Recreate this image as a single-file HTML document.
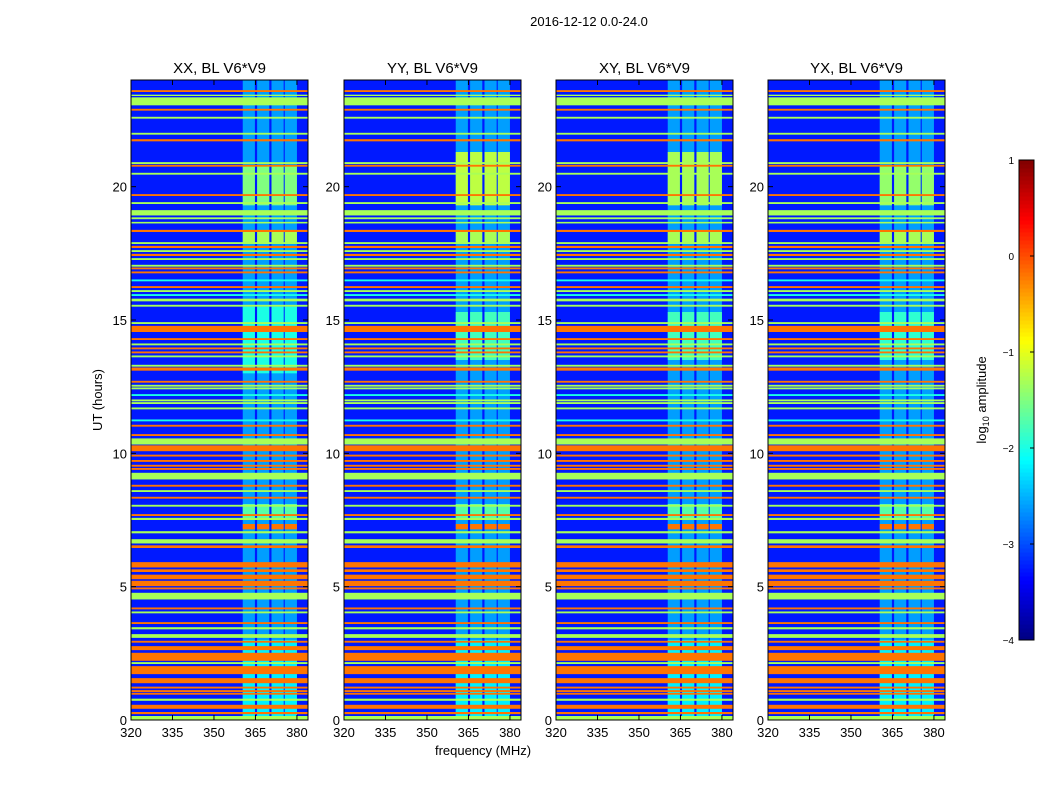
<!DOCTYPE html>
<html><head><meta charset="utf-8">
<style>
body{margin:0;background:#fff;}
svg{display:block;font-family:"Liberation Sans",sans-serif;}
</style></head>
<body>
<svg id="fig" width="1050" height="800" viewBox="0 0 1050 800" xmlns="http://www.w3.org/2000/svg">
<rect width="1050" height="800" fill="#fff"/>
<text x="589" y="26" font-size="13" text-anchor="middle">2016-12-12 0.0-24.0</text>
<text x="483" y="755" font-size="13" text-anchor="middle">frequency (MHz)</text>
<text transform="translate(102,400) rotate(-90)" font-size="13" text-anchor="middle">UT (hours)</text>
<g id="panels"></g>
<g id="cbar"></g>
<text transform="translate(986,400) rotate(-90)" font-size="13" text-anchor="middle">log<tspan font-size="9" dy="3">10</tspan><tspan dy="-3"> amplitude</tspan></text>
</svg>
<script>
const panelTitles = ["XX, BL V6*V9","YY, BL V6*V9","XY, BL V6*V9","YX, BL V6*V9"];
const panelLeft = [131,344,556,768];
const xTicks = [320,335,350,365,380];
const yTicks = [0,5,10,15,20];
const cbarTicks = [1,0,-1,-2,-3,-4];
const cbarTickLabels = ["1","0","\u22121","\u22122","\u22123","\u22124"];
const backgroundLevel = -3.25;
const O = -0.2, G = -1.3, C = -2.0;
// horizontal RFI bands: [startHour, endHour, log10 amplitude]
const bandStart = [23.55,23.4,23.05,22.85,22.55,21.95,21.7,20.85,20.75,20.45,19.65,19.35,18.92,18.78,18.62,18.3,17.85,17.7,17.55,17.4,17.25,17.0,16.9,16.75,16.45,16.2,16.05,15.9,15.7,15.5,14.85,14.55,14.25,14.05,13.9,13.75,13.6,13.25,13.1,12.65,12.5,12.4,12.15,11.95,11.85,11.65,11.2,11.0,10.65,10.33,10.08,9.88,9.68,9.5,9.38,9.02,8.75,8.55,8.3,8.0,7.65,7.5,7.0,6.62,6.45,5.72,5.55,5.28,5.02,4.9,4.52,4.15,4.0,3.6,3.4,3.08,2.9,2.62,2.22,2.1,1.72,1.38,1.18,1.05,0.95,0.72,0.42,0.22,0.0];
const bandEnd = [23.62,23.45,23.35,22.92,22.62,22.02,21.78,20.92,20.82,20.52,19.72,19.42,19.12,18.85,18.68,18.38,17.92,17.78,17.62,17.48,17.32,17.07,16.97,16.82,16.52,16.27,16.12,15.97,15.8,15.57,14.92,14.78,14.32,14.12,13.97,13.82,13.67,13.32,13.22,12.72,12.57,12.47,12.22,12.02,11.92,11.72,11.27,11.07,10.72,10.56,10.3,9.95,9.75,9.57,9.45,9.27,8.82,8.62,8.37,8.07,7.72,7.58,7.08,6.78,6.55,5.92,5.65,5.45,5.22,4.97,4.77,4.22,4.07,3.67,3.48,3.22,2.97,2.77,2.52,2.17,2.02,1.57,1.25,1.12,1.02,0.8,0.57,0.3,0.15];
const bandLevel = [O,G,G,O,G,G,O,G,O,G,O,G,G,G,G,O,G,O,G,O,G,G,O,O,C,O,G,C,G,G,G,O,O,G,O,O,G,G,O,O,G,G,C,G,G,G,C,O,O,G,O,O,O,O,O,G,O,G,O,G,O,G,G,G,O,O,O,O,O,O,G,O,G,O,G,G,O,O,O,G,O,O,O,O,O,G,O,O,G];
// wideband RFI sub-bands (MHz)
const subStart = [360.4,365.6,370.8,375.6];
const subEnd = [364.8,370.0,375.2,380.0];
const rfiBaseLevel = -2.6;
// per-panel RFI windows: [start hour, end hour, level]
const rfiWinStart = [[19.3,17.9,13.0,7.5,7.15,0.0],[19.3,17.9,13.5,7.5,7.15,0.0],[19.3,17.9,13.5,7.5,7.15,0.0],[19.3,17.9,13.5,7.5,7.15,0.0]];
const rfiWinEnd =   [[20.8,18.3,15.5,8.1,7.35,3.0],[21.3,18.3,15.3,8.1,7.35,3.0],[21.3,18.3,15.3,8.1,7.35,3.0],[20.8,18.3,15.3,8.1,7.35,3.0]];
const rfiWinLevel = [[-1.5,-1.3,-2.0,-1.7,-0.2,-2.2],[-1.2,-1.3,-1.8,-1.7,-0.2,-2.2],[-1.3,-1.3,-1.8,-1.7,-0.2,-2.2],[-1.4,-1.3,-1.9,-1.7,-0.2,-2.2]];

const NS="http://www.w3.org/2000/svg";
const PW=177, PT=80, PB=720, FMIN=320, FMAX=384, TMIN=0, TMAX=24;
function jet(v){
  let t=(v+4)/5; t=Math.max(0,Math.min(1,t));
  const c=x=>Math.round(255*Math.max(0,Math.min(1,x)));
  const r=c(Math.min(4*t-1.5,-4*t+4.5)), g=c(Math.min(4*t-0.5,-4*t+3.5)), b=c(Math.min(4*t+0.5,-4*t+2.5));
  return `rgb(${r},${g},${b})`;
}
function el(tag,attrs,parent){const e=document.createElementNS(NS,tag);for(const k in attrs)e.setAttribute(k,attrs[k]);parent.appendChild(e);return e;}
const yS=h=>PB-(h-TMIN)/(TMAX-TMIN)*(PB-PT);
const panels=document.getElementById('panels');
panelLeft.forEach((L,p)=>{
  const xS=f=>L+(f-FMIN)/(FMAX-FMIN)*PW;
  const g=el('g',{},panels);
  
  
  const bg=el('rect',{x:L,y:PT,width:PW,height:PB-PT,fill:jet(backgroundLevel)},g);
  
  
  subStart.forEach((s,i)=>{
    const r=el('rect',{x:xS(s),y:PT,width:xS(subEnd[i])-xS(s),height:PB-PT,fill:jet(rfiBaseLevel)},g);
    
    
    rfiWinStart[p].forEach((ws,j)=>{
      const c=el('rect',{x:xS(s),y:yS(rfiWinEnd[p][j]),width:xS(subEnd[i])-xS(s),height:yS(ws)-yS(rfiWinEnd[p][j]),fill:jet(rfiWinLevel[p][j])},g);
      
      
    });
  });
  bandStart.forEach((s,i)=>{
    const y0=yS(bandEnd[i]), y1=yS(s);
    const r=el('rect',{x:L,y:y0,width:PW,height:Math.max(1.2,y1-y0),fill:jet(bandLevel[i])},g);
    
    
  });
  const fr=el('rect',{x:L,y:PT,width:PW,height:PB-PT,fill:'none',stroke:'#000','stroke-width':1},g);
  
  
  const tt=el('text',{x:L+PW/2,y:PT-7,'font-size':15,'text-anchor':'middle'},g);
  tt.textContent=panelTitles[p];
  
  
  xTicks.forEach(f=>{
    const x=xS(f);
    el('line',{x1:x,y1:PB,x2:x,y2:PB-5,stroke:'#000'},g);
    el('line',{x1:x,y1:PT,x2:x,y2:PT+5,stroke:'#000'},g);
    const t=el('text',{x:x,y:PB+17,'font-size':13,'text-anchor':'middle'},g);
    t.textContent=f;
    
    
  });
  yTicks.forEach(h=>{
    const y=yS(h);
    el('line',{x1:L,y1:y,x2:L+5,y2:y,stroke:'#000'},g);
    el('line',{x1:L+PW,y1:y,x2:L+PW-5,y2:y,stroke:'#000'},g);
    const t=el('text',{x:L-4,y:y+5,'font-size':13,'text-anchor':'end'},g);
    t.textContent=h;
    
    
  });
});
const cb=document.getElementById('cbar');


const CX=1019,CW=15,CT=160,CBt=640;
const cy=v=>CBt-(v+4)/5*(CBt-CT);
for(let i=0;i<120;i++){
  const v0=-4+5*i/120, v1=-4+5*(i+1)/120;
  el('rect',{x:CX,y:cy(v1),width:CW,height:cy(v0)-cy(v1)+0.5,fill:jet((v0+v1)/2)},cb);
}
el('rect',{x:CX,y:CT,width:CW,height:CBt-CT,fill:'none',stroke:'#000'},cb);
cbarTicks.forEach((v,i)=>{
  const y=cy(v);
  el('line',{x1:CX+CW-4,y1:y,x2:CX+CW,y2:y,stroke:'#000'},cb);
  const t=el('text',{x:CX-5,y:y+4,'font-size':10,'text-anchor':'end'},cb);
  t.textContent=cbarTickLabels[i];
  
  
});
</script>
</body></html>
